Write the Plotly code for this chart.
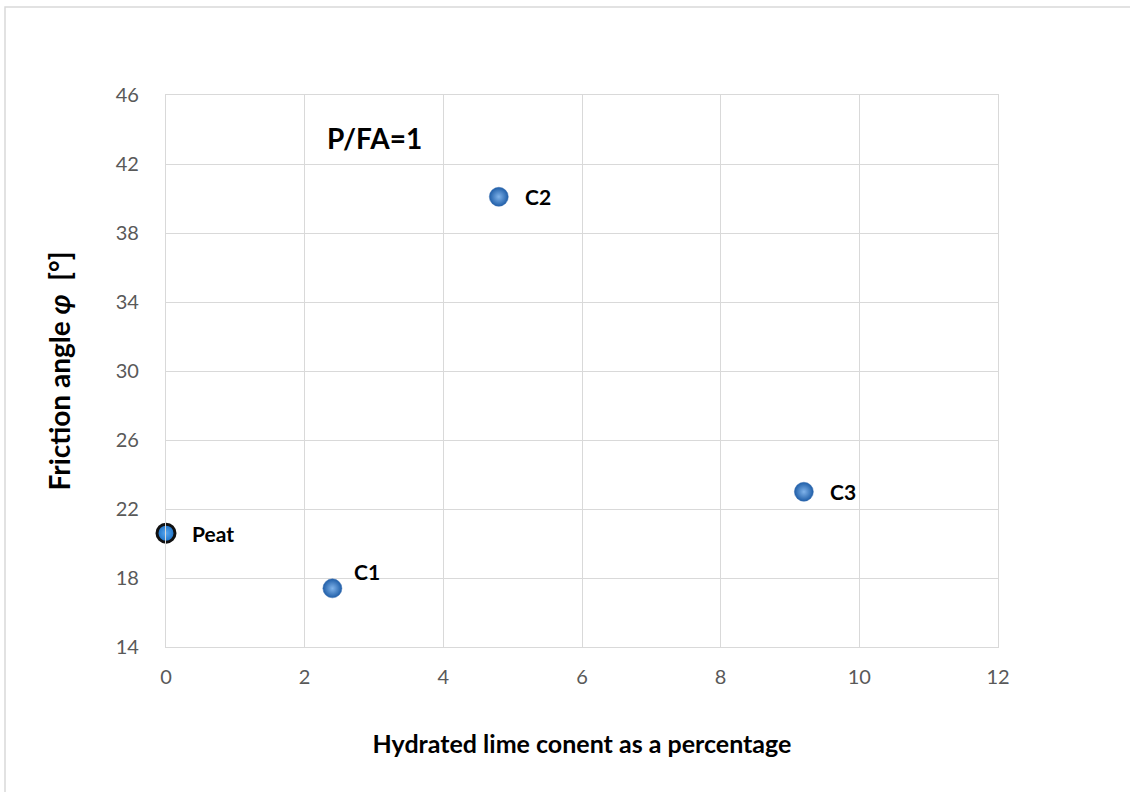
import plotly.graph_objects as go

# Friction angle versus hydrated lime content (P/FA = 1)
labels = ["Peat", "C1", "C2", "C3"]
lime_pct = [0.0, 2.4, 4.8, 9.2]
friction_deg = [20.6, 17.4, 40.1, 23.0]

x_ticks = [0, 2, 4, 6, 8, 10, 12]
y_ticks = [14, 18, 22, 26, 30, 34, 38, 42, 46]

# label offsets (px) relative to each point
label_dx = [24, 20, 24, 24]
label_dy = [0, 17, 0, 0]

FONT = "Lato, 'Open Sans', sans-serif"

fig = go.Figure()

# sample points: blue spheres
fig.add_trace(go.Scatter(
    x=lime_pct[1:], y=friction_deg[1:], mode="markers",
    marker=dict(size=19, color="#1f5ea8",
                gradient=dict(type="radial", color="#80b3ea"),
                line=dict(width=0.5, color="#3a6fb0")),
    hoverinfo="x+y", showlegend=False, cliponaxis=False,
))
# untreated peat: dark outlined marker
fig.add_trace(go.Scatter(
    x=lime_pct[:1], y=friction_deg[:1], mode="markers",
    marker=dict(size=18, color="#1a6fc4",
                gradient=dict(type="radial", color="#5aa8f0"),
                line=dict(width=3, color="#111111")),
    hoverinfo="x+y", showlegend=False, cliponaxis=False,
))

for lab, xv, yv, dx, dy in zip(labels, lime_pct, friction_deg, label_dx, label_dy):
    fig.add_annotation(x=xv, y=yv, text=f"<b>{lab}</b>", showarrow=False,
                       xanchor="left", yanchor="middle", xshift=dx, yshift=dy,
                       font=dict(family=FONT, size=21, color="#000000"))

fig.add_annotation(x=3.0, y=43.5, text="<b>P/FA=1</b>", showarrow=False,
                   xanchor="center", yanchor="middle",
                   font=dict(family=FONT, size=28, color="#000000"))

# outer chart frame
fig.add_shape(type="rect", xref="paper", yref="paper",
              x0=-0.1935, x1=1.3, y0=-0.4, y1=1.1594,
              line=dict(color="#d9d9d9", width=1.5), layer="below")

fig.update_layout(
    width=1130, height=792,
    margin=dict(l=166, r=132, t=95, b=145),
    paper_bgcolor="white", plot_bgcolor="white",
    font=dict(family=FONT, color="#595959"),
    xaxis=dict(
        range=[0, 12], tickvals=x_ticks, showgrid=True, gridcolor="#d9d9d9",
        gridwidth=1.3, zeroline=False, showline=True, linecolor="#d9d9d9",
        linewidth=1.3, mirror=True, ticks="", ticklabelstandoff=12,
        tickfont=dict(size=20, color="#595959"),
        title=dict(text="<b>Hydrated lime conent as a percentage</b>",
                   font=dict(size=25, color="#000000"), standoff=48),
    ),
    yaxis=dict(
        range=[14, 46], tickvals=y_ticks, showgrid=True, gridcolor="#d9d9d9",
        gridwidth=1.3, zeroline=False, showline=True, linecolor="#d9d9d9",
        linewidth=1.3, mirror=True, ticks="", ticklabelstandoff=22,
        tickfont=dict(size=20, color="#595959"),
        title=dict(text="<b>Friction angle <i>φ</i>  [°]</b>",
                   font=dict(size=28, color="#000000"), standoff=36),
    ),
)

fig.write_html("out.html")
